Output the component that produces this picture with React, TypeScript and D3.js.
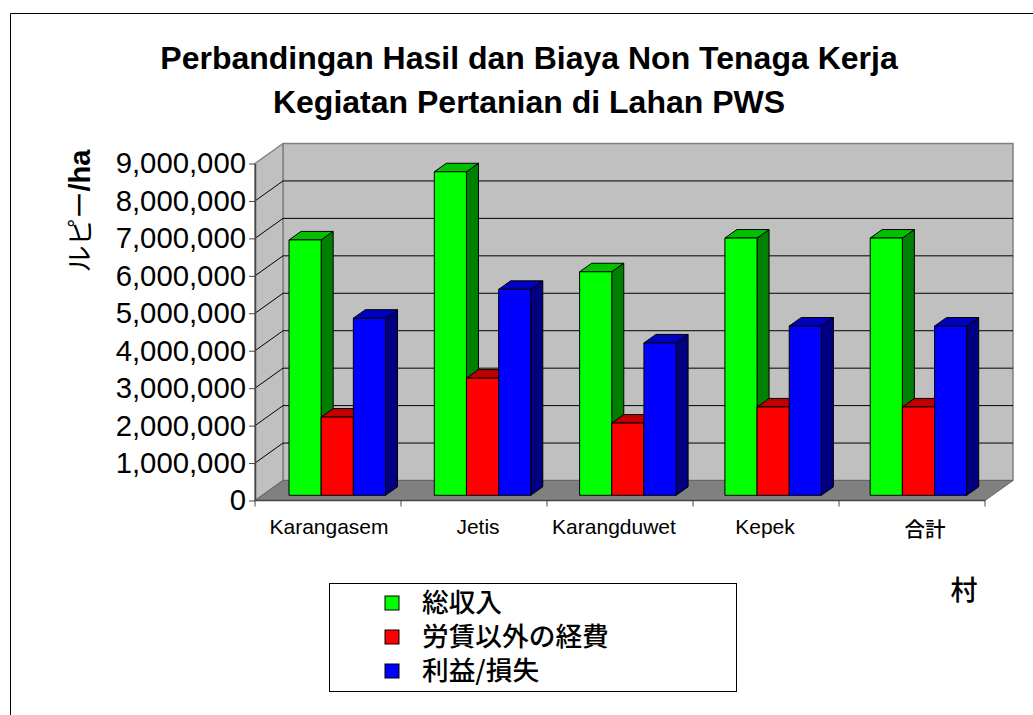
import { useEffect, useRef } from "react";
import * as d3 from "d3";

const titleLines = ["Perbandingan Hasil dan Biaya Non Tenaga Kerja", "Kegiatan Pertanian di Lahan PWS"];
const villages = ["Karangasem", "Jetis", "Karangduwet", "Kepek", "合計"];
const seriesNames = ["総収入", "労賃以外の経費", "利益/損失"];
const totalIncome = [6820000, 8640000, 5970000, 6870000, 6870000];
const otherCosts = [2090000, 3130000, 1930000, 2360000, 2360000];
const profitLoss = [4730000, 5500000, 4070000, 4520000, 4520000];
const seriesValues = [totalIncome, otherCosts, profitLoss];
const frontColors = ["#00ff00", "#ff0000", "#0000ff"];
const sideColors = ["#008000", "#800000", "#000080"];
const topColors = ["#00c000", "#c00000", "#0000c0"];

const sans = '"Liberation Sans", Arial, sans-serif';
const cjk = '"Noto Sans CJK JP", "Liberation Sans", sans-serif';

const App = () => {
  const svgRef = useRef<SVGSVGElement>(null);

  useEffect(() => {
    const svg = d3.select(svgRef.current);
    svg.selectAll("*").remove();

    const yScale = d3.scaleLinear().domain([0, 9000000]).range([500.5, 163.5]);
    const xScale = d3.scaleBand<string>().domain(villages).range([255, 985]);
    // bars sit on a slightly tighter step than the axis ticks
    const groupScale = d3.scaleBand<string>().domain(villages).range([289, 1015.5]);
    const barScale = d3
      .scaleBand<number>()
      .domain([0, 1, 2])
      .range([0, 96.5]);

    // depth of the whole box, and of one bar
    const wallDx = 28;
    const wallDy = -20;
    const barDx = 12;
    const barDy = -8.5;
    const barShiftY = -5.2;

    const poly = (pts: number[][], fill: string, stroke = "#000", width = 1) =>
      svg
        .append("polygon")
        .attr("points", pts.map((p) => p.join(",")).join(" "))
        .attr("fill", fill)
        .attr("stroke", stroke)
        .attr("stroke-width", width)
        .attr("stroke-linejoin", "round");

    // outer frame
    svg.append("path").attr("d", "M10.5,715V13.5H1033").attr("fill", "none").attr("stroke", "#000");

    const xL = 255;
    const xR = 985;
    const y0 = yScale(0);
    const y9 = yScale(9000000);

    // walls and floor
    poly([[xL + wallDx, y9 + wallDy], [xR + wallDx, y9 + wallDy], [xR + wallDx, y0 + wallDy], [xL + wallDx, y0 + wallDy]], "#c0c0c0", "#808080", 1.5);
    poly([[xL, y9], [xL + wallDx, y9 + wallDy], [xL + wallDx, y0 + wallDy], [xL, y0]], "#c0c0c0", "#808080", 1.5);
    poly([[xL, y0], [xL + wallDx, y0 + wallDy], [xR + wallDx, y0 + wallDy], [xR, y0]], "#808080", "#666", 1);

    // gridlines run along the side wall and the back wall
    yScale.ticks(9).filter((d) => d > 0 && d < 9000000).forEach((d) => {
      const y = yScale(d);
      svg
        .append("path")
        .attr("d", `M${xL},${y}L${xL + wallDx},${y + wallDy}H${xR + wallDx}`)
        .attr("fill", "none")
        .attr("stroke", "#000")
        .attr("stroke-width", 1);
    });

    // bars, left to right so each one covers the side of the one before
    villages.forEach((v, i) => {
      seriesValues.forEach((values, s) => {
        const x = (groupScale(v) as number) + (barScale(s) as number);
        const w = barScale.bandwidth();
        const yBottom = y0 + barShiftY;
        const yTop = yBottom - (y0 - yScale(values[i]));
        poly([[x + w, yTop], [x + w + barDx, yTop + barDy], [x + w + barDx, yBottom + barDy], [x + w, yBottom]], sideColors[s]);
        poly([[x, yTop], [x + barDx, yTop + barDy], [x + w + barDx, yTop + barDy], [x + w, yTop]], topColors[s]);
        poly([[x, yTop], [x + w, yTop], [x + w, yBottom], [x, yBottom]], frontColors[s]);
      });
    });

    // y axis
    const yAxis = svg
      .append("g")
      .attr("transform", `translate(${xL},0)`)
      .call(d3.axisLeft(yScale).ticks(9).tickSize(6).tickSizeOuter(0).tickFormat(d3.format(",") as any));
    yAxis.select(".domain").attr("stroke", "#444").attr("stroke-width", 1.5);
    yAxis.selectAll("line").attr("stroke", "#444");
    yAxis
      .selectAll("text")
      .attr("x", -9)
      .attr("fill", "#000")
      .attr("font-family", sans)
      .attr("font-size", 29.3);

    // x axis: ticks on the band edges, labels hand-nudged as in the original
    svg
      .append("line")
      .attr("x1", xL)
      .attr("x2", xR)
      .attr("y1", y0)
      .attr("y2", y0)
      .attr("stroke", "#444")
      .attr("stroke-width", 1.5);
    [...villages.map((v) => xScale(v) as number), xR].forEach((x) => {
      svg.append("line").attr("x1", x).attr("x2", x).attr("y1", y0).attr("y2", y0 + 6).attr("stroke", "#444");
    });
    const labelNudge = [1, 4, -6, -1, 13];
    villages.forEach((v, i) => {
      svg
        .append("text")
        .attr("x", (xScale(v) as number) + xScale.bandwidth() / 2 + labelNudge[i])
        .attr("y", i === 4 ? 537 : 534)
        .attr("text-anchor", "middle")
        .attr("font-family", i === 4 ? cjk : sans)
        .attr("font-weight", i === 4 ? 500 : 400)
        .attr("font-size", i === 4 ? 20.5 : 21)
        .text(v);
    });

    // title
    titleLines.forEach((line, i) => {
      svg
        .append("text")
        .attr("x", 529)
        .attr("y", 69 + i * 44)
        .attr("text-anchor", "middle")
        .attr("font-family", sans)
        .attr("font-weight", "bold")
        .attr("font-size", 32)
        .text(line);
    });

    // y title
    const yTitle = svg
      .append("text")
      .attr("transform", "translate(90,211) rotate(-90)")
      .attr("text-anchor", "middle")
      .attr("font-family", cjk)
      .attr("font-size", 27);
    yTitle.append("tspan").text("ルピー");
    yTitle.append("tspan").attr("font-family", sans).attr("font-weight", "bold").attr("font-size", 29).text("/ha");

    // x title
    svg
      .append("text")
      .attr("x", 964)
      .attr("y", 600)
      .attr("text-anchor", "middle")
      .attr("font-family", cjk)
      .attr("font-weight", 500)
      .attr("font-size", 27)
      .text("村");

    // legend
    svg
      .append("rect")
      .attr("x", 329.5)
      .attr("y", 583.5)
      .attr("width", 407)
      .attr("height", 108)
      .attr("fill", "#fff")
      .attr("stroke", "#000");
    const legendY = d3.scalePoint<string>().domain(seriesNames).range([603, 671]);
    seriesNames.forEach((name, i) => {
      const y = legendY(name) as number;
      svg
        .append("rect")
        .attr("x", 385)
        .attr("y", y - 7)
        .attr("width", 14)
        .attr("height", 14)
        .attr("fill", frontColors[i])
        .attr("stroke", "#000");
      svg
        .append("text")
        .attr("x", 422)
        .attr("y", y + 9)
        .attr("font-family", cjk)
        .attr("font-weight", 500)
        .attr("font-size", 26.7)
        .text(name);
    });
  }, []);

  return <svg ref={svgRef} width={1033} height={715} style={{ position: "absolute", left: 0, top: 0, background: "#fff" }} />;
};

export default App;
